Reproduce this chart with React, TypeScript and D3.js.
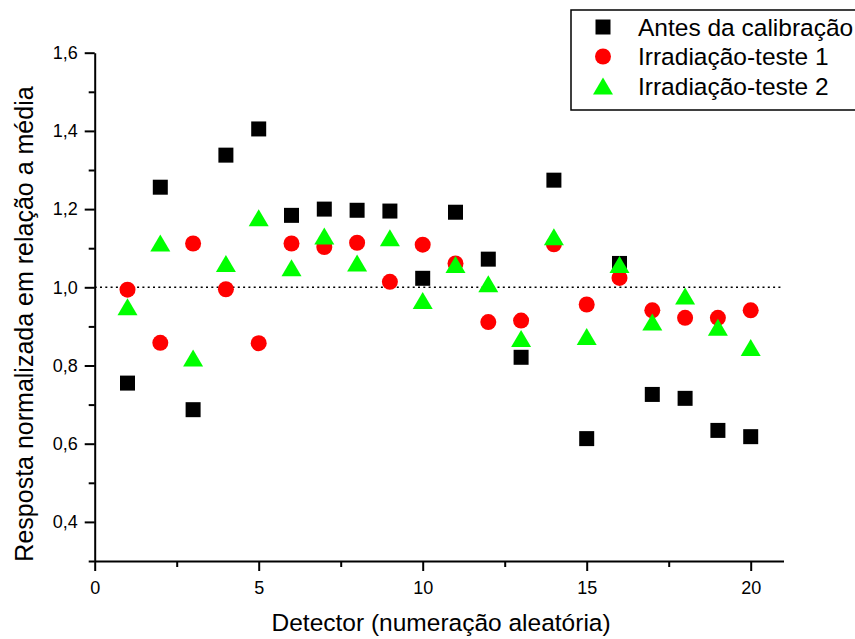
import React, { useRef, useEffect } from "react";
import * as d3 from "d3";

// detector number (random numbering)
const detectors = [1, 2, 3, 4, 5, 6, 7, 8, 9, 10, 11, 12, 13, 14, 15, 16, 17, 18, 19, 20];

// normalized response
const antesCalibracao = [
  0.755, 1.256, 0.687, 1.338, 1.405, 1.184, 1.2, 1.197, 1.195, 1.023,
  1.192, 1.072, 0.821, 1.274, 0.613, 1.061, 0.726, 0.716, 0.634, 0.618,
];
const irradiacao1 = [
  0.994, 0.858, 1.112, 0.995, 0.857, 1.112, 1.103, 1.114, 1.014, 1.109,
  1.061, 0.911, 0.915, 1.11, 0.956, 1.024, 0.941, 0.922, 0.922, 0.941,
];
const irradiacao2 = [
  0.95, 1.113, 0.819, 1.061, 1.178, 1.05, 1.131, 1.062, 1.127, 0.966,
  1.058, 1.009, 0.869, 1.129, 0.874, 1.058, 0.911, 0.978, 0.898, 0.846,
];

const xMajorTicks = [0, 5, 10, 15, 20];
const xMinorTicks = [2.5, 7.5, 12.5, 17.5];
const yMajorTicks = [0.4, 0.6, 0.8, 1.0, 1.2, 1.4, 1.6];
const yMinorTicks = [0.3, 0.5, 0.7, 0.9, 1.1, 1.3, 1.5];

const legendLabels = ["Antes da calibração", "Irradiação-teste 1", "Irradiação-teste 2"];

const xTitle = "Detector (numeração aleatória)";
const yTitle = "Resposta normalizada em relação a média";

const W = 855;
const H = 639;
const FONT = "'Liberation Sans', Arial, sans-serif";

const App = () => {
  const svgRef = useRef(null);

  useEffect(() => {
    const svg = d3.select(svgRef.current);
    svg.selectAll("*").remove(); //clear

    const x = d3.scaleLinear().domain([0, 21]).range([94.7, 783.5]);
    const y = d3.scaleLinear().domain([0.3, 1.6]).range([561, 52.7]);

    const fmt = (d) => d3.format(".1f")(d).replace(".", ",");

    // reference line at 1,0
    svg
      .append("line")
      .attr("x1", x(0))
      .attr("x2", x(21))
      .attr("y1", y(1))
      .attr("y2", y(1))
      .attr("stroke", "black")
      .attr("stroke-width", 1.6)
      .attr("stroke-dasharray", "2,3.3");

    // axes
    const styleAxis = (g) => {
      g.selectAll("path").attr("stroke-width", 2);
      g.selectAll("line").attr("stroke-width", 2);
      g.selectAll("text").attr("font-family", FONT).attr("font-size", 18).attr("fill", "black");
    };

    svg
      .append("g")
      .attr("transform", `translate(0, ${y(0.3)})`)
      .call(d3.axisBottom(x).tickValues(xMajorTicks).tickSize(10).tickSizeOuter(0).tickPadding(10))
      .call(styleAxis);

    svg
      .append("g")
      .attr("transform", `translate(0, ${y(0.3)})`)
      .call(d3.axisBottom(x).tickValues(xMinorTicks).tickSize(6).tickFormat(() => ""))
      .call((g) => g.select(".domain").remove())
      .call(styleAxis);

    svg
      .append("g")
      .attr("transform", `translate(${x(0)}, 0)`)
      .call(d3.axisLeft(y).tickValues(yMajorTicks).tickSize(10).tickSizeOuter(0).tickPadding(7).tickFormat(fmt))
      .call(styleAxis);

    svg
      .append("g")
      .attr("transform", `translate(${x(0)}, 0)`)
      .call(d3.axisLeft(y).tickValues(yMinorTicks).tickSize(6).tickFormat(() => ""))
      .call((g) => g.select(".domain").remove())
      .call(styleAxis);

    // markers
    const squarePath = d3.symbol(d3.symbolSquare, 225)();
    const circlePath = d3.symbol(d3.symbolCircle, Math.PI * 64)();
    const triPath = "M0,-8.5L10,8.5L-10,8.5Z";

    const drawSeries = (values, path, color) => {
      svg
        .append("g")
        .selectAll("path")
        .data(detectors)
        .enter()
        .append("path")
        .attr("d", path)
        .attr("fill", color)
        .attr("transform", (d, i) => `translate(${x(d)}, ${y(values[i])})`);
    };

    drawSeries(antesCalibracao, squarePath, "#000000");
    drawSeries(irradiacao1, circlePath, "#ff0000");
    drawSeries(irradiacao2, triPath, "#00ff00");

    // titles
    svg
      .append("text")
      .attr("x", (x(0) + x(21)) / 2 + 2)
      .attr("y", 631)
      .attr("text-anchor", "middle")
      .attr("font-family", FONT)
      .attr("font-size", 24.5)
      .text(xTitle);

    svg
      .append("text")
      .attr("transform", `translate(33, 324) rotate(-90)`)
      .attr("text-anchor", "middle")
      .attr("font-family", FONT)
      .attr("font-size", 25)
      .text(yTitle);

    // legend
    const legend = svg.append("g");
    legend
      .append("rect")
      .attr("x", 571)
      .attr("y", 10)
      .attr("width", 290)
      .attr("height", 100)
      .attr("fill", "white")
      .attr("stroke", "black")
      .attr("stroke-width", 1.5);

    const legendPaths = [squarePath, circlePath, triPath];
    const legendColors = ["#000000", "#ff0000", "#00ff00"];
    legendLabels.forEach((label, i) => {
      const cy = 27 + i * 29.5;
      legend
        .append("path")
        .attr("d", legendPaths[i])
        .attr("fill", legendColors[i])
        .attr("transform", `translate(603, ${cy})`);
      legend
        .append("text")
        .attr("x", 638)
        .attr("y", cy + 8.5)
        .attr("font-family", FONT)
        .attr("font-size", 24.5)
        .text(label);
    });
  }, []);

  return (
    <div>
      <svg
        ref={svgRef}
        width={W}
        height={H}
        style={{ position: "absolute", left: 0, top: 0, background: "white" }}
      ></svg>
    </div>
  );
};

export default App;
